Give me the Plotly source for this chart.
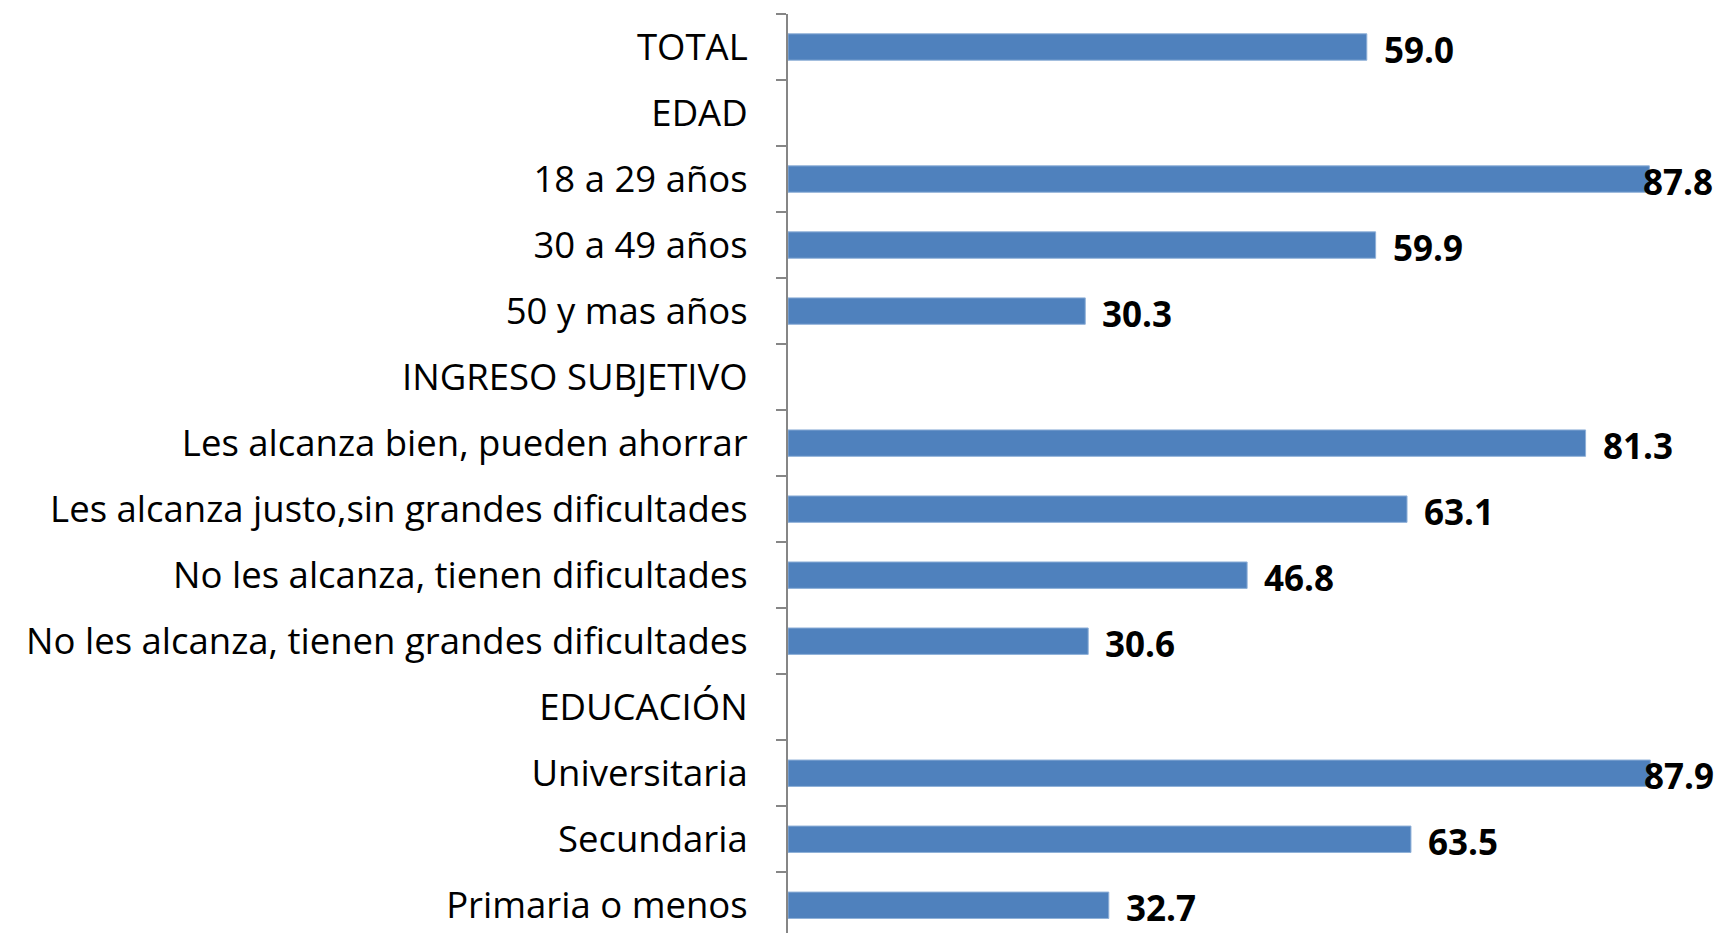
import plotly.graph_objects as go

categories = [
    "TOTAL",
    "EDAD",
    "18 a 29 años",
    "30 a 49 años",
    "50 y mas años",
    "INGRESO SUBJETIVO",
    "Les alcanza bien, pueden ahorrar",
    "Les alcanza justo,sin grandes dificultades",
    "No les alcanza, tienen dificultades",
    "No les alcanza, tienen grandes dificultades",
    "EDUCACIÓN",
    "Universitaria",
    "Secundaria",
    "Primaria o menos",
]
values = [59.0, None, 87.8, 59.9, 30.3, None, 81.3, 63.1, 46.8, 30.6, None, 87.9, 63.5, 32.7]

FONT = "Open Sans"
BAR_COLOR = "#4F81BD"

fig = go.Figure()
fig.add_trace(go.Bar(
    y=categories,
    x=values,
    orientation="h",
    marker=dict(color=BAR_COLOR, line=dict(color="#8FB0D8", width=1)),
    hoverinfo="x+y",
    cliponaxis=False,
))

for c, v in zip(categories, values):
    if v is None:
        continue
    fig.add_annotation(
        x=v, y=c, xref="x", yref="y",
        text=f"{v:.1f}",
        showarrow=False,
        xanchor="left",
        xshift=-8 if v > 85 else 15,
        yshift=-2,
        font=dict(family=FONT, size=35, color="#000000", weight="bold"),
    )

fig.update_layout(
    width=1719, height=933,
    margin=dict(l=788, r=0, t=14, b=0, autoexpand=False),
    paper_bgcolor="white",
    plot_bgcolor="white",
    bargap=0.6,
    showlegend=False,
    font=dict(family=FONT, size=36.5, color="#000000"),
)
fig.update_xaxes(
    range=[0, 94.9],
    visible=False,
    showgrid=False,
    zeroline=False,
)
fig.update_yaxes(
    type="category",
    categoryorder="array",
    categoryarray=categories,
    range=[13.42, -0.5],
    showline=True,
    linecolor="#868686",
    linewidth=2,
    ticks="outside",
    tickson="boundaries",
    ticklen=10,
    tickcolor="#868686",
    tickwidth=2,
    ticklabelstandoff=31,
    showgrid=False,
    zeroline=False,
    automargin=False,
    tickfont=dict(family=FONT, size=36.5, color="#000000"),
)

fig.write_html(
    "out.html",
    config={"displayModeBar": False},
    post_script="document.body.style.margin='0px';document.body.style.overflow='hidden';",
)
